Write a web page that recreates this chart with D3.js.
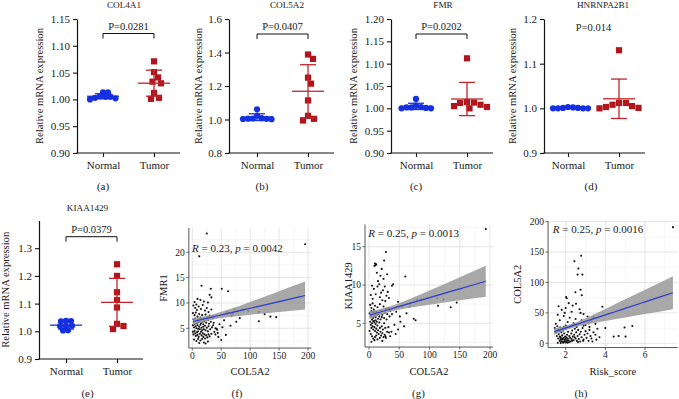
<!DOCTYPE html>
<html><head><meta charset="utf-8">
<script src="https://cdn.jsdelivr.net/npm/d3@7"></script>
<style>
body{margin:0;background:#fff}
svg{display:block}
text{font-family:"Liberation Serif","Times New Roman",serif;fill:#1a1a1a}
</style>
</head><body><svg id="c" width="679" height="399"></svg>
<script>
// ---------------- DATA ----------------
const categories = ["Normal","Tumor"];

const col4a1Normal = [1.013,1.013,1.006,1.005,1.003,1.000,1.002,1.005];
const col4a1Tumor  = [1.071,1.051,1.041,1.033,1.030,1.012,1.001,1.003];
const col5a2Normal = [1.061,1.023,1.008,1.005,1.003,1.004,1.006,1.002];
const col5a2Tumor  = [1.388,1.362,1.250,1.214,1.114,1.022,0.994,1.004];
const fmrNormal    = [1.021,1.006,1.003,1.002,1.000,1.000,1.001,1.002];
const fmrTumor     = [1.112,1.014,1.012,1.008,1.003,1.000,1.005,1.013];
const hnrNormal    = [1.000,1.000,1.001,1.003,1.002,1.000,1.000,1.001];
const hnrTumor     = [1.130,1.012,1.008,1.003,1.000,1.001,1.005,1.012];
const kiaNormal    = [1.037,1.036,1.038,1.020,1.020,1.019,1.004,1.003];
const kiaTumor     = [1.242,1.200,1.141,1.113,1.086,1.027,1.008,1.019];

const pLabels = ["P=0.0281","P=0.0407","P=0.0202","P=0.014","P=0.0379"];
const geneTitles = ["COL4A1","COL5A2","FMR","HNRNPA2B1","KIAA1429"];
const ticksA = [0.90,0.95,1.00,1.05,1.10,1.15];
const ticksB = [0.8,1.0,1.2,1.4,1.6];
const ticksC = [0.90,0.95,1.00,1.05,1.10,1.15,1.20];
const ticksD = [0.9,1.0,1.1,1.2];
const ticksE = [0.9,1.0,1.1,1.2,1.3];

// scatter (f): COL5A2 vs FMR1
const fmr1VsCol5a2 = [
[25,23.7],[195,21.6],[12,19.2],[16,13.4],[32,12.8],[51,12.8],[62,12.3],[30,11.6],[33,11.1],[14,10.6],[9,10.8],[4,10.2],[20,10.3],[27,10.1],[7,9.7],
[115,8.2],[125,7.8],[115,6.4],[135,7.3],[145,7.2],[97,8.4],[87,8.7],[78,8.3],[73,8.8],[68,7.5],[76,6.3],[66,5.5],[43,4.7],[58,3.7],[50,2.7],[82,7.0],[60,8.2],[55,6.6],[47,5.8],[40,5.0],[38,4.3],[45,3.3],[36,5.6],[52,5.2],[70,7.9],
[2,9.5],[5,9.0],[8,8.6],[11,9.3],[15,8.8],[18,9.6],[22,8.5],[25,9.0],[28,8.2],[33,8.7],
[1,8.0],[4,7.6],[6,8.1],[9,7.3],[12,7.8],[14,7.1],[17,7.6],[20,7.0],[23,7.7],[26,7.2],[30,7.5],[35,7.0],
[2,6.8],[3,6.3],[5,6.9],[7,6.5],[8,6.0],[10,6.7],[11,6.2],[13,6.5],[15,6.0],[16,6.8],[18,6.3],[19,5.8],[21,6.4],[24,6.1],[27,6.6],[29,5.9],[32,6.3],[37,6.1],
[1,5.6],[3,5.2],[4,5.8],[6,5.4],[7,5.0],[9,5.6],[10,4.9],[12,5.3],[13,4.8],[14,5.7],[16,5.1],[17,4.6],[19,5.3],[20,4.8],[22,5.5],[23,4.6],[25,5.1],[27,4.4],[28,5.4],[31,4.8],[34,5.2],
[1,4.3],[2,3.8],[4,4.5],[5,4.0],[6,3.5],[8,4.2],[9,3.7],[10,4.4],[11,3.3],[13,3.9],[15,4.3],[16,3.6],[18,4.0],[19,3.3],[21,3.8],[22,3.0],[24,3.6],[26,3.2],[28,3.8],[30,3.4],[33,3.9],
[3,2.8],[7,2.5],[10,2.9],[14,2.6],[17,2.9],[20,2.2],[23,2.0],[27,2.4],[12,2.1],[40,3.8],[42,4.9],[44,4.1]
];
const fFitX  = [1,30,60,100,150,195];
const fFitY  = [6.33,7.10,7.89,8.95,10.28,11.47];
const fFitLo = [5.64,6.60,7.19,7.69,8.24,8.71];
const fFitHi = [7.02,7.60,8.59,10.21,12.32,14.23];

// scatter (g): COL5A2 vs KIAA1429
const kiaVsCol5a2 = [
[193,17.3],[28,14.3],[25,13.2],[10,12.8],[11,12.6],[12,12.7],[9,12.5],[21,12.1],[60,11.1],[40,10.1],[38,9.9],[113,8.3],[114,7.3],[123,8.1],[135,7.1],[145,7.7],[84,8.0],[80,8.1],[87,8.1],[68,7.6],[67,7.2],[62,6.3],[74,5.6],[77,5.4],[51,5.9],[37,3.9],[48,7.8],[45,6.5],[55,7.2],[42,4.8],[48,4.2],[52,5.2],[44,3.6],[33,3.8],[58,4.6],
[5,9.9],[8,9.5],[14,9.8],[17,10.1],[20,9.0],[23,9.3],[26,9.8],[29,8.6],[31,9.1],[11,8.8],[6,8.2],[18,8.4],[22,8.0],[27,7.9],[33,8.3],[3,8.7],[15,10.5],[24,10.8],[30,11.4],[19,11.2],[13,11.6],
[2,7.4],[4,7.0],[6,7.6],[8,6.8],[10,7.3],[12,6.5],[14,7.1],[16,6.2],[18,7.5],[20,6.7],[22,6.1],[24,7.2],[26,6.4],[28,6.9],[30,6.2],[32,7.0],[35,6.6],[1,6.3],[3,5.9],[5,6.1],[7,5.7],[9,6.0],[11,5.8],[13,6.1],[15,5.6],[17,5.9],[19,5.5],[21,5.8],[25,5.7],[29,5.5],[34,5.9],[38,6.2],
[2,5.2],[3,4.8],[4,4.4],[5,5.0],[6,4.6],[7,4.2],[8,5.3],[9,4.5],[10,4.0],[11,4.9],[12,4.3],[13,3.8],[14,4.7],[15,4.1],[16,3.6],[17,5.1],[18,4.4],[19,3.9],[20,3.4],[21,4.6],[22,3.7],[23,4.2],[24,3.2],[25,5.0],[26,3.5],[27,4.4],[28,3.1],[30,3.9],[32,4.5],[35,3.3],
[3,3.6],[5,3.3],[7,3.0],[9,2.8],[12,3.4],[14,2.9],[18,3.1],[22,2.7],[1,4.0],[4,2.6],[10,3.2],[27,3.3],
[5,5.5],[7,5.3],[9,5.1],[11,5.4],[13,5.2],[4,6.6],[6,6.4],[8,6.5],[10,6.3]
];
const gFitX  = [1,30,60,100,150,193];
const gFitY  = [6.07,6.74,7.43,8.35,9.50,10.49];
const gFitLo = [5.57,6.39,6.92,7.43,8.00,8.48];
const gFitHi = [6.57,7.09,7.94,9.27,11.00,12.50];

// scatter (h): Risk_score vs COL5A2
const col5a2VsRisk = [
[7.41,191],[2.44,135],[2.78,144],[2.64,123],[2.6,113],[2.84,113],[2.49,84],[2.75,88],[2.81,79],[2.02,76],[2.05,74],[2.52,65],[1.64,61],[3.85,60],[4.0,25],[4.42,11],[4.67,12],[4.97,26],[5.02,11],[5.36,28.5],
[1.8,55],[2.0,58],[2.3,52],[2.7,56],[2.9,48],[3.1,44],[1.6,47],[1.9,45],[2.2,42],[2.5,40],[2.8,38],[3.3,36],[1.7,38],[2.1,35],[2.4,33],[2.6,31],[3.0,30],[3.5,32],[1.5,32],[2.0,29],[3.2,27],[2.75,50],[2.35,62],[1.95,50],[2.15,66],[3.4,43],
[1.45,25],[1.5,18],[1.55,12],[1.6,22],[1.62,8],[1.65,15],[1.7,4],[1.72,26],[1.75,10],[1.78,18],[1.8,6],[1.82,13],[1.85,2],[1.87,21],[1.9,9],[1.92,16],[1.95,4],[1.97,11],[2.0,7],[2.02,24],[2.05,3],[2.07,14],[2.1,8],[2.12,19],[2.15,5],[2.18,12],[2.2,26],[2.22,9],[2.25,3],[2.28,16],[2.3,7],[2.33,21],[2.36,11],[2.4,5],[2.43,14],[2.46,24],[2.5,8],[2.53,18],[2.56,4],[2.6,12],[2.63,22],[2.66,7],[2.7,15],[2.73,3],[2.76,19],[2.8,10],[2.85,25],[2.9,6],[2.95,14],[3.0,20],[3.05,9],[3.1,16],[3.15,4],[3.2,22],[3.25,12],[3.3,8],[3.4,18],[3.5,14],[3.6,24],[3.7,10],
[1.6,1],[1.75,0.5],[1.88,1],[2.0,1.5],[2.1,0.8],[1.95,6],[1.83,8],[1.77,3],[1.7,11],[1.68,20],[1.58,28],[2.26,28],[2.38,30],[2.55,27],[2.9,29],[3.15,33],[1.9,27],[1.92,2.5],[2.03,10],[2.08,5],[1.85,6.5],[1.73,7],[2.17,2],[2.32,4],[2.45,10],[2.62,2],[2.88,4],[3.35,3],[3.55,6]
];
const hFitX  = [1.42,2.2,3,4,5,6,7.41];
const hFitY  = [19.1,27.4,36.0,46.7,57.4,68.1,83.2];
const hFitLo = [13.8,23.9,30.6,36.8,42.5,48.2,56.1];
const hFitHi = [24.4,30.9,41.4,56.6,72.3,88.0,110.3];

// ---------------- DRAWING ----------------
const svg = d3.select("#c");
const BLUE = "#1530e0", RED = "#b3141c", RED_BAR = "#c0262c";
const FONT = "Liberation Serif, Times New Roman, serif";

function swarm(vals, y, cx, minDist){
  const pts = vals.map(v=>({v, y:y(v), x:cx}));
  const order = pts.slice().sort((a,b)=>a.y-b.y);
  const placed=[];
  order.forEach(p=>{
    for(let k=0;k<400;k++){
      const off=(k%2?1:-1)*Math.ceil(k/2)*0.5;
      const xx=cx+off;
      if(placed.every(q=>Math.hypot(q.x-xx,q.y-p.y)>=minDist)){p.x=xx;break;}
    }
    placed.push(p);
  });
  return pts;
}

const dotPanels = [
 {title:geneTitles[0], normal:col4a1Normal, tumor:col4a1Tumor, x0:77, nx:103, yTop:19, yBot:153, domain:[0.90,1.15], ticks:ticksA, fmt:".2f", ylabX:39, titleX:124, titleY:7.5, p:pLabels[0], bracket:true, pY:30, bY:33.5, label:"(a)", labelX:103, labelY:190, catY:168.5},
 {title:geneTitles[1], normal:col5a2Normal, tumor:col5a2Tumor, x0:229, nx:257, yTop:19, yBot:153, domain:[0.8,1.6], ticks:ticksB, fmt:".1f", ylabX:198.5, titleX:287, titleY:7.5, p:pLabels[1], bracket:true, pY:30, bY:34, label:"(b)", labelX:262, labelY:190, catY:168.5},
 {title:geneTitles[2], normal:fmrNormal, tumor:fmrTumor, x0:391, nx:416, yTop:19, yBot:153, domain:[0.90,1.20], ticks:ticksC, fmt:".2f", ylabX:353.5, titleX:443, titleY:7.5, p:pLabels[2], bracket:true, pY:30, bY:34, label:"(c)", labelX:416, labelY:190, catY:168.5},
 {title:geneTitles[3], normal:hnrNormal, tumor:hnrTumor, x0:544, nx:568, yTop:19, yBot:153, domain:[0.9,1.2], ticks:ticksD, fmt:".1f", ylabX:512.5, titleX:603, titleY:7.5, p:pLabels[3], bracket:false, pY:31, bY:34, label:"(d)", labelX:591, labelY:190, catY:168.5},
 {title:geneTitles[4], normal:kiaNormal, tumor:kiaTumor, x0:39, nx:66, yTop:220.5, yBot:359, domain:[0.9,1.4], ticks:ticksE, fmt:".1f", ylabX:5.5, titleX:87.5, titleY:211, p:pLabels[4], bracket:true, pY:232.5, bY:236.7, label:"(e)", labelX:87.5, labelY:397, catY:375}
];

dotPanels.forEach(c=>{
  const g = svg.append("g");
  const y = d3.scaleLinear().domain(c.domain).range([c.yBot, c.yTop]);
  const x = d3.scalePoint().domain(categories).range([c.nx, c.nx+51]);
  const xEnd = c.nx+51+26;
  const yg = g.append("g").attr("transform",`translate(${c.x0},0)`)
    .call(d3.axisLeft(y).tickValues(c.ticks).tickFormat(d3.format(c.fmt)).tickSize(4).tickSizeOuter(0));
  yg.select(".domain").attr("stroke","#111").attr("stroke-width",1.2);
  yg.selectAll(".tick line").attr("stroke","#111").attr("stroke-width",1.1);
  yg.selectAll(".tick text").attr("font-size",11).attr("font-family",FONT).attr("fill","#1a1a1a");
  const xg = g.append("g").attr("transform",`translate(0,${c.yBot})`)
    .call(d3.axisBottom(x).tickSize(4));
  xg.select(".domain").remove();
  xg.append("line").attr("x1",c.x0-0.6).attr("x2",xEnd).attr("y1",0).attr("y2",0).attr("stroke","#111").attr("stroke-width",1.2);
  xg.selectAll(".tick line").attr("stroke","#111").attr("stroke-width",1.1);
  xg.selectAll(".tick text").attr("font-size",11).attr("font-family",FONT).attr("fill","#1a1a1a")
    .attr("y", c.catY - c.yBot).attr("dy",0);
  g.append("text").attr("transform",`translate(${c.ylabX},${(c.yTop+c.yBot)/2}) rotate(-90)`)
    .attr("text-anchor","middle").attr("dy","0.35em").attr("font-size",10.6).text("Relative mRNA expression");
  g.append("text").attr("x",c.titleX).attr("y",c.titleY).attr("text-anchor","middle").attr("font-size",9.2).text(c.title);
  const xm = (x("Normal")+x("Tumor"))/2;
  g.append("text").attr("x",xm).attr("y",c.pY).attr("text-anchor","middle").attr("font-size",10.5).text(c.p);
  if(c.bracket){
    g.append("path").attr("d",`M${x("Normal")},${c.bY+5}V${c.bY}H${x("Tumor")}V${c.bY+5}`)
      .attr("fill","none").attr("stroke","#111").attr("stroke-width",1);
  }
  g.append("text").attr("x",c.labelX).attr("y",c.labelY).attr("text-anchor","middle").attr("font-size",11).text(c.label);

  const nPts = swarm(c.normal, y, x("Normal"), 4.8);
  const tPts = swarm(c.tumor, y, x("Tumor"), 6.6);
  g.selectAll("circle.n").data(nPts).join("circle").attr("class","n")
    .attr("cx",d=>d.x).attr("cy",d=>d.y).attr("r",3.1).attr("fill",BLUE);
  g.selectAll("rect.t").data(tPts).join("rect").attr("class","t")
    .attr("x",d=>d.x-3.1).attr("y",d=>d.y-3.1).attr("width",6.2).attr("height",6.2).attr("fill",RED);
  [[c.normal,"Normal",BLUE],[c.tumor,"Tumor",RED_BAR]].forEach(([vals,cat,col])=>{
    const m=d3.mean(vals), s=d3.deviation(vals), cx=x(cat);
    const eb=g.append("g").attr("stroke",col).attr("stroke-width",1.3).attr("fill","none");
    eb.append("line").attr("x1",cx-16).attr("x2",cx+16).attr("y1",y(m)).attr("y2",y(m));
    eb.append("line").attr("x1",cx).attr("x2",cx).attr("y1",y(m-s)).attr("y2",y(m+s));
    eb.append("line").attr("x1",cx-8).attr("x2",cx+8).attr("y1",y(m+s)).attr("y2",y(m+s));
    eb.append("line").attr("x1",cx-8).attr("x2",cx+8).attr("y1",y(m-s)).attr("y2",y(m-s));
  });
});

const scatterPanels = [
 {data:fmr1VsCol5a2, fit:[fFitX,fFitY,fFitLo,fFitHi], xd:[0,200], xr:[192.3,308.0], yd:[5,20], yr:[328.3,252.3], xLim:[-6,206], yLim:[1.1,24.8],
  xTicks:[0,50,100,150,200], yTicks:[5,10,15,20], xMinor:[25,75,125,175], yMinor:[2.5,7.5,12.5,17.5,22.5],
  xlab:"COL5A2", ylab:"FMR1", ylabX:163, stat:["0.23","0.0042"], statX:192, statY:252.3, label:"(f)", labelX:237},
 {data:kiaVsCol5a2, fit:[gFitX,gFitY,gFitLo,gFitHi], xd:[0,200], xr:[369,490], yd:[5,15], yr:[323.3,246.7], xLim:[-6.6,205], yLim:[1.9,17.9],
  xTicks:[0,50,100,150,200], yTicks:[5,10,15], xMinor:[25,75,125,175], yMinor:[2.5,7.5,12.5,17.5],
  xlab:"COL5A2", ylab:"KIAA1429", ylabX:348, stat:["0.25","0.0013"], statX:368.3, statY:237.3, label:"(g)", labelX:418.5},
 {data:col5a2VsRisk, fit:[hFitX,hFitY,hFitLo,hFitHi], xd:[2,6], xr:[565.7,645], yd:[0,200], yr:[343.3,221.7], xLim:[1.11,7.65], yLim:[-7,201],
  xTicks:[2,4,6], yTicks:[0,50,100,150,200], xMinor:[3,5,7], yMinor:[25,75,125,175],
  xlab:"Risk_score", ylab:"COL5A2", ylabX:517, stat:["0.25","0.0016"], statX:552.7, statY:233.3, label:"(h)", labelX:581}
];

scatterPanels.forEach((c,i)=>{
  const g = svg.append("g");
  const x = d3.scaleLinear().domain(c.xd).range(c.xr);
  const y = d3.scaleLinear().domain(c.yd).range(c.yr);
  const L=x(c.xLim[0]), R=x(c.xLim[1]), T=y(c.yLim[1]), B=y(c.yLim[0]);
  g.append("rect").attr("x",L).attr("y",T).attr("width",R-L).attr("height",B-T).attr("fill","#fff");
  const clipId="clip"+i;
  g.append("clipPath").attr("id",clipId).append("rect").attr("x",L).attr("y",T).attr("width",R-L).attr("height",B-T);
  const inner = g.append("g").attr("clip-path",`url(#${clipId})`);
  inner.selectAll("line.xm").data(c.xMinor).join("line").attr("x1",d=>x(d)).attr("x2",d=>x(d)).attr("y1",T).attr("y2",B).attr("stroke","#f0f0f0").attr("stroke-width",0.6);
  inner.selectAll("line.ym").data(c.yMinor).join("line").attr("y1",d=>y(d)).attr("y2",d=>y(d)).attr("x1",L).attr("x2",R).attr("stroke","#f0f0f0").attr("stroke-width",0.6);
  inner.selectAll("line.xg").data(c.xTicks).join("line").attr("x1",d=>x(d)).attr("x2",d=>x(d)).attr("y1",T).attr("y2",B).attr("stroke","#e2e2e2").attr("stroke-width",0.9);
  inner.selectAll("line.yg").data(c.yTicks).join("line").attr("y1",d=>y(d)).attr("y2",d=>y(d)).attr("x1",L).attr("x2",R).attr("stroke","#e2e2e2").attr("stroke-width",0.9);
  inner.selectAll("circle").data(c.data).join("circle").attr("cx",d=>x(d[0])).attr("cy",d=>y(d[1])).attr("r",1.05).attr("fill","#111");
  const [fx,fy,flo,fhi]=c.fit;
  const idx=d3.range(fx.length);
  inner.append("path").datum(idx).attr("d",d3.area().x(k=>x(fx[k])).y0(k=>y(flo[k])).y1(k=>y(fhi[k])).curve(d3.curveMonotoneX))
    .attr("fill","#999").attr("fill-opacity",0.85);
  inner.append("path").datum(idx).attr("d",d3.line().x(k=>x(fx[k])).y(k=>y(fy[k])).curve(d3.curveMonotoneX))
    .attr("fill","none").attr("stroke","#2b3bd0").attr("stroke-width",1.2);
  g.append("line").attr("x1",L).attr("x2",L).attr("y1",T).attr("y2",B).attr("stroke","#444").attr("stroke-width",0.9);
  g.append("line").attr("x1",L).attr("x2",R).attr("y1",B).attr("y2",B).attr("stroke","#444").attr("stroke-width",0.9);
  c.xTicks.forEach(t=>{
    g.append("line").attr("x1",x(t)).attr("x2",x(t)).attr("y1",B).attr("y2",B+2.5).attr("stroke","#444").attr("stroke-width",0.8);
    g.append("text").attr("x",x(t)).attr("y",B+10.5).attr("text-anchor","middle").attr("font-size",9.5).text(t);
  });
  c.yTicks.forEach(t=>{
    g.append("line").attr("x1",L-2.5).attr("x2",L).attr("y1",y(t)).attr("y2",y(t)).attr("stroke","#444").attr("stroke-width",0.8);
    g.append("text").attr("x",L-4).attr("y",y(t)).attr("dy","0.35em").attr("text-anchor","end").attr("font-size",9.5).text(t);
  });
  g.append("text").attr("x",(L+R)/2).attr("y",375).attr("text-anchor","middle").attr("font-size",10.5).text(c.xlab);
  g.append("text").attr("transform",`translate(${c.ylabX},${(T+B)/2}) rotate(-90)`).attr("text-anchor","middle").attr("dy","0.35em").attr("font-size",10.5).text(c.ylab);
  const st = g.append("text").attr("x",c.statX).attr("y",c.statY).attr("font-size",11);
  st.append("tspan").attr("font-style","italic").text("R");
  st.append("tspan").text(` = ${c.stat[0]}, `);
  st.append("tspan").attr("font-style","italic").text("p");
  st.append("tspan").text(` = ${c.stat[1]}`);
  g.append("text").attr("x",c.labelX).attr("y",397).attr("text-anchor","middle").attr("font-size",11).text(c.label);
});
</script>
</body></html>
